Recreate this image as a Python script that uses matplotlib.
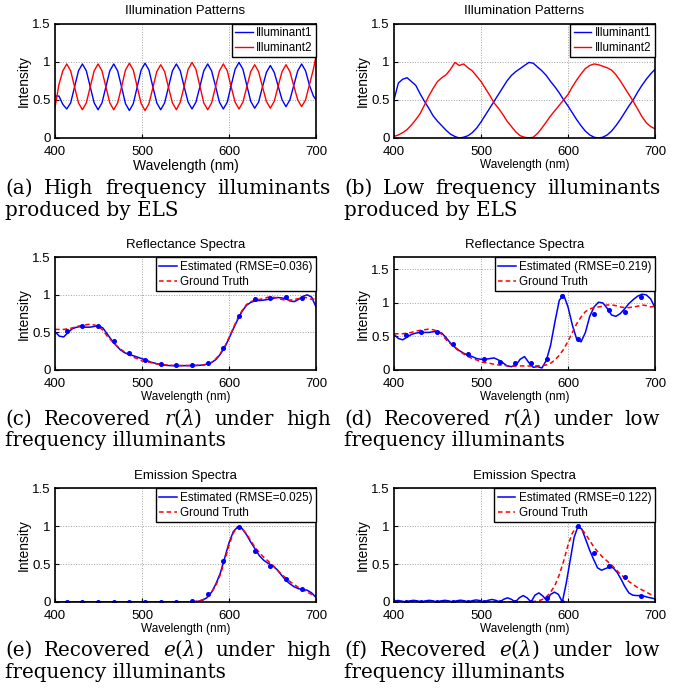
import matplotlib.pyplot as plt
import numpy as np

plt.rcParams['font.family'] = ['Liberation Sans', 'DejaVu Sans']
plt.rcParams['mathtext.fontset'] = 'dejavuserif'

# wavelength samples (nm)
wl = np.arange(400, 701, 5)
wl_hf = np.append(np.arange(400, 700, 4.5), 700)
wl_dots = np.arange(413.5, 700, 18)

# (a) high frequency illuminants
illum_hf_1 = [0.55, 0.55, 0.44, 0.38, 0.46, 0.67, 0.88,
              0.97, 0.88, 0.67, 0.46, 0.37, 0.46, 0.67, 0.88,
              0.97, 0.88, 0.67, 0.45, 0.36, 0.45, 0.67, 0.89,
              0.98, 0.89, 0.67, 0.46, 0.37, 0.46, 0.67, 0.88,
              0.97, 0.88, 0.67, 0.47, 0.38, 0.47, 0.67, 0.88,
              0.97, 0.88, 0.68, 0.47, 0.38, 0.47, 0.69, 0.90,
              0.99, 0.90, 0.69, 0.48, 0.39, 0.47, 0.67, 0.86,
              0.95, 0.86, 0.68, 0.50, 0.41, 0.50, 0.69, 0.88,
              0.97, 0.88, 0.69, 0.55, 0.50]
illum_hf_2 = [0.40, 0.70, 0.88, 0.97, 0.88, 0.67, 0.46,
              0.37, 0.46, 0.67, 0.88, 0.97, 0.88, 0.67, 0.46,
              0.37, 0.46, 0.67, 0.89, 0.98, 0.89, 0.67, 0.45,
              0.36, 0.45, 0.66, 0.87, 0.96, 0.87, 0.66, 0.46,
              0.37, 0.47, 0.68, 0.90, 0.99, 0.90, 0.68, 0.46,
              0.37, 0.46, 0.67, 0.88, 0.97, 0.88, 0.67, 0.47,
              0.38, 0.47, 0.67, 0.87, 0.96, 0.87, 0.67, 0.48,
              0.39, 0.48, 0.68, 0.87, 0.96, 0.87, 0.68, 0.50,
              0.41, 0.50, 0.70, 0.90, 1.07]

# (b) low frequency illuminants
illum_lf_1 = [0.50, 0.72, 0.77, 0.79, 0.74, 0.69, 0.58, 0.48, 0.39, 0.29,
              0.22, 0.16, 0.10, 0.05, 0.02, 0.00, 0.01, 0.03, 0.07, 0.13,
              0.21, 0.30, 0.39, 0.48, 0.57, 0.66, 0.75, 0.82, 0.87, 0.91,
              0.95, 0.99, 0.98, 0.93, 0.88, 0.82, 0.74, 0.67, 0.59, 0.50,
              0.42, 0.33, 0.24, 0.16, 0.09, 0.04, 0.01, 0.00, 0.01, 0.04,
              0.09, 0.16, 0.24, 0.33, 0.42, 0.50, 0.60, 0.69, 0.77, 0.84,
              0.90]
illum_lf_2 = [0.02, 0.04, 0.07, 0.11, 0.17, 0.24, 0.32, 0.43, 0.55, 0.65,
              0.74, 0.79, 0.83, 0.90, 0.99, 0.95, 0.97, 0.92, 0.88, 0.81,
              0.74, 0.65, 0.56, 0.46, 0.39, 0.31, 0.22, 0.15, 0.08, 0.03,
              0.01, 0.00, 0.01, 0.06, 0.13, 0.21, 0.29, 0.36, 0.43, 0.50,
              0.57, 0.67, 0.76, 0.84, 0.91, 0.95, 0.97, 0.96, 0.94, 0.92,
              0.89, 0.83, 0.75, 0.66, 0.57, 0.48, 0.38, 0.28, 0.20, 0.15,
              0.12]

# (c), (d) reflectance
refl_gt = [0.54, 0.54, 0.54, 0.55, 0.56, 0.58, 0.59, 0.60, 0.61, 0.60,
           0.58, 0.53, 0.45, 0.39, 0.33, 0.28, 0.24, 0.20, 0.17, 0.15,
           0.12, 0.11, 0.10, 0.085, 0.075, 0.07, 0.065, 0.06, 0.06, 0.06,
           0.06, 0.06, 0.06, 0.062, 0.065, 0.075, 0.10, 0.15, 0.22, 0.31,
           0.43, 0.56, 0.69, 0.79, 0.87, 0.91, 0.93, 0.94, 0.95, 0.97,
           0.97, 0.96, 0.94, 0.93, 0.93, 0.94, 0.95, 0.97, 0.96, 0.94,
           0.95]
refl_est_hf = [0.51, 0.45, 0.44, 0.50, 0.55, 0.57, 0.58, 0.57, 0.57, 0.58,
               0.59, 0.56, 0.48, 0.40, 0.33, 0.27, 0.23, 0.21, 0.19, 0.17,
               0.15, 0.13, 0.105, 0.09, 0.075, 0.065, 0.06, 0.058, 0.057, 0.057,
               0.058, 0.058, 0.06, 0.062, 0.066, 0.08, 0.10, 0.14, 0.21, 0.30,
               0.42, 0.55, 0.67, 0.78, 0.86, 0.90, 0.92, 0.925, 0.93, 0.94,
               0.95, 0.965, 0.96, 0.95, 0.92, 0.91, 0.94, 0.98, 1.00, 0.97,
               0.84]
refl_est_lf = [0.53, 0.47, 0.45, 0.49, 0.53, 0.55, 0.56, 0.56, 0.56, 0.57,
               0.57, 0.55, 0.48, 0.40, 0.34, 0.29, 0.25, 0.22, 0.20, 0.17,
               0.16, 0.16, 0.17, 0.18, 0.15, 0.11, 0.06, 0.05, 0.07, 0.16,
               0.20, 0.11, 0.04, 0.05, 0.03, 0.14, 0.37, 0.72, 1.04, 1.12,
               0.94, 0.67, 0.46, 0.42, 0.56, 0.80, 0.94, 1.01, 1.00, 0.92,
               0.82, 0.80, 0.84, 0.91, 0.99, 1.05, 1.10, 1.13, 1.12, 1.06,
               0.93]
refl_dots_hf = [0.52, 0.58, 0.59, 0.39, 0.23, 0.13, 0.08, 0.067,
                0.067, 0.09, 0.29, 0.72, 0.94, 0.96, 0.97, 0.96]
refl_dots_lf = [0.52, 0.56, 0.57, 0.39, 0.24, 0.16, 0.12, 0.11,
                0.11, 0.17, 1.10, 0.46, 0.84, 0.90, 0.86, 1.09]

# (e), (f) emission
emis_gt = [0.0] * 32 + [0.005, 0.013, 0.03, 0.065, 0.13, 0.22, 0.36, 0.54, 0.75, 0.91,
                        0.99, 0.97, 0.90, 0.81, 0.72, 0.65, 0.59, 0.54, 0.49, 0.43,
                        0.37, 0.32, 0.27, 0.23, 0.19, 0.16, 0.13, 0.10, 0.08]
emis_est_hf = [0.0] * 32 + [0.005, 0.01, 0.025, 0.06, 0.13, 0.24, 0.38, 0.58, 0.78, 0.93,
                            0.99, 0.97, 0.89, 0.79, 0.70, 0.61, 0.55, 0.51, 0.48, 0.43,
                            0.36, 0.29, 0.24, 0.20, 0.175, 0.165, 0.155, 0.12, 0.06]
emis_est_lf = [0.012, 0.02, 0.012,
               0.0, 0.015, 0.022, 0.015,
               0.0, 0.015, 0.022, 0.015,
               0.0, 0.015, 0.022, 0.015,
               0.0, 0.016, 0.024, 0.016,
               0.0, 0.018, 0.027, 0.018,
               0.0, 0.022, 0.033, 0.022,
               0.0, 0.035, 0.055, 0.035,
               0.0, 0.055, 0.085, 0.055,
               0.0, 0.09, 0.12, 0.08,
               0.02, 0.10, 0.13, 0.10,
               0.0, 0.25, 0.55, 0.85,
               1.00, 0.96, 0.82, 0.68,
               0.56, 0.45, 0.42, 0.44,
               0.46, 0.45, 0.39, 0.30,
               0.20, 0.12, 0.09, 0.085,
               0.085, 0.075, 0.06, 0.05,
               0.04]
emis_dots_hf = [0, 0, 0, 0, 0, 0, 0, 0,
                0.01, 0.10, 0.54, 0.99, 0.67, 0.48, 0.30, 0.17]
emis_dots_lf = [0, 0, 0, 0, 0, 0, 0, 0,
                0, 0.05, 0.0, 1.00, 0.65, 0.47, 0.33, 0.08]

rmse = ['0.036', '0.219', '0.025', '0.122']
captions = [
    ('(a) High frequency illuminants', 'produced by ELS'),
    ('(b) Low frequency illuminants', 'produced by ELS'),
    (r'(c) Recovered $r(\lambda)$ under high', 'frequency illuminants'),
    (r'(d) Recovered $r(\lambda)$ under low', 'frequency illuminants'),
    (r'(e) Recovered $e(\lambda)$ under high', 'frequency illuminants'),
    (r'(f) Recovered $e(\lambda)$ under low', 'frequency illuminants'),
]

W, H = 683, 694
fig = plt.figure(figsize=(W / 100, H / 100), dpi=100)


def make_axes(left, top, right, bottom):
    return fig.add_axes([left / W, 1 - bottom / H, (right - left) / W, (bottom - top) / H])


def style(ax, title, ymax=1.5, xfs=8.5):
    ax.set_xlim(400, 700)
    ax.set_ylim(0, ymax)
    ax.set_xticks([400, 500, 600, 700])
    ax.set_yticks([0, 0.5, 1, 1.5])
    ax.set_yticklabels(['0', '0.5', '1', '1.5'])
    ax.grid(True, linestyle=':', color='#a0a0a0', linewidth=0.7)
    ax.tick_params(direction='in', length=3, labelsize=9.5)
    ax.tick_params(axis='x', pad=6)
    ax.tick_params(axis='y', pad=3)
    for s in ax.spines.values():
        s.set_linewidth(1.2)
    ax.set_title(title, fontsize=9.5, pad=7)
    ax.set_xlabel('Wavelength (nm)', fontsize=xfs, labelpad=0.5)
    ax.set_ylabel('Intensity', fontsize=10, labelpad=1)


def legend(ax):
    leg = ax.legend(loc='upper right', fontsize=8.4, fancybox=False, edgecolor='black',
                    framealpha=1, borderaxespad=0, borderpad=0.3, labelspacing=0.25,
                    handlelength=1.5, handletextpad=0.3)
    leg.get_frame().set_linewidth(1.0)


cols = [(55, 316), (394, 655)]
rows = [(23.5, 138), (257.3, 370), (488.3, 602)]
axs = [[make_axes(c[0], r[0], c[1], r[1]) for c in cols] for r in rows]

# illumination
ax = axs[0][0]
ax.plot(wl_hf, illum_hf_1, color='#0000ff', lw=1.0, label='Illuminant1')
ax.plot(wl_hf, illum_hf_2, color='#ff0000', lw=1.0, label='Illuminant2')
style(ax, 'Illumination Patterns', xfs=10)
legend(ax)

ax = axs[0][1]
ax.plot(wl, illum_lf_1, color='#0000ff', lw=1.0, label='Illuminant1')
ax.plot(wl, illum_lf_2, color='#ff0000', lw=1.0, label='Illuminant2')
style(ax, 'Illumination Patterns')
legend(ax)

# reflectance
for ax, est, dots, err, ymax in [(axs[1][0], refl_est_hf, refl_dots_hf, rmse[0], 1.5),
                                 (axs[1][1], refl_est_lf, refl_dots_lf, rmse[1], 1.68)]:
    ax.plot(wl, est, color='#0000ff', lw=1.1, label='Estimated (RMSE=%s)' % err)
    ax.plot(wl, refl_gt, color='#ff0000', lw=1.1, ls=(0, (3, 2)), label='Ground Truth')
    ax.plot(wl_dots, dots, 'o', color='#0000ff', ms=2.6)
    style(ax, 'Reflectance Spectra', ymax=ymax)
    legend(ax)

# emission
for ax, x, est, dots, err in [(axs[2][0], wl, emis_est_hf, emis_dots_hf, rmse[2]),
                              (axs[2][1], wl_hf, emis_est_lf, emis_dots_lf, rmse[3])]:
    ax.plot(x, est, color='#0000ff', lw=1.1, label='Estimated (RMSE=%s)' % err)
    ax.plot(wl, emis_gt, color='#ff0000', lw=1.1, ls=(0, (3, 2)), label='Ground Truth')
    ax.plot(wl_dots, dots, 'o', color='#0000ff', ms=2.6)
    style(ax, 'Emission Spectra')
    legend(ax)

# justified two-line captions
cap_font = dict(family=['DejaVu Serif'], fontsize=14.3, va='center')
renderer = fig.canvas.get_renderer()
cap_x = [(5, 331), (344, 660)]
cap_y = [(188, 210), (419, 441), (650, 673)]
for i, (l1, l2) in enumerate(captions):
    x0, x1 = cap_x[i % 2]
    y1, y2 = cap_y[i // 2]
    words = [fig.text(0, 1 - y1 / H, w, **cap_font) for w in l1.split(' ')]
    widths = [t.get_window_extent(renderer).width for t in words]
    gap = (x1 - x0 - sum(widths)) / (len(words) - 1)
    x = x0
    for t, w in zip(words, widths):
        t.set_x(x / W)
        x += w + gap
    fig.text(x0 / W, 1 - y2 / H, l2, **cap_font)

fig.savefig('out.png', dpi=100)
